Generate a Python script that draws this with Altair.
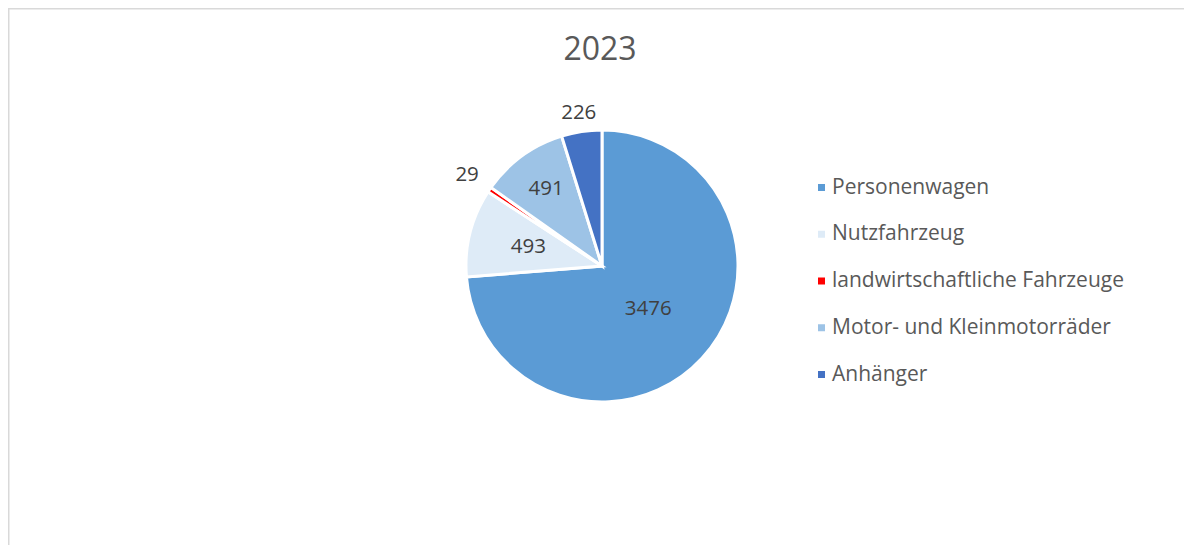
import altair as alt
import pandas as pd

title_text = "2023"
categories = ["Personenwagen", "Nutzfahrzeug", "landwirtschaftliche Fahrzeuge",
              "Motor- und Kleinmotorräder", "Anhänger"]
values = [3476, 493, 29, 491, 226]
colors = ["#5B9BD5", "#DEEBF7", "#FF0000", "#9DC3E6", "#4472C4"]

df = pd.DataFrame({"cat": categories, "val": values, "idx": list(range(len(categories)))})

W, H = 1176, 537
CX, CY, R = 594, 258, 136

pie = alt.Chart(df).mark_arc(outerRadius=R, stroke="white", strokeWidth=3).encode(
    theta=alt.Theta("val:Q", stack=True),
    order=alt.Order("idx:Q"),
    x=alt.value(CX), y=alt.value(CY),
    color=alt.Color(
        "cat:N",
        scale=alt.Scale(domain=categories, range=colors),
        sort=categories,
        legend=alt.Legend(
            title=None, orient="none", legendX=803, legendY=169,
            symbolType="square", symbolSize=49, symbolStrokeWidth=0,
            labelFont="Open Sans", labelFontSize=21, labelColor="#595959",
            rowPadding=24.75, labelOffset=0, labelLimit=500,
        ),
    ),
)

labels = alt.Chart(df).transform_window(
    cum="sum(val)", sort=[alt.SortField("idx")]
).transform_joinaggregate(
    total="sum(val)"
).transform_calculate(
    mid="(datum.cum - datum.val / 2) / datum.total * 2 * PI",
    lr="datum.idx == 0 ? 63 : datum.idx == 1 ? 76 : datum.idx == 2 ? 163 : datum.idx == 3 ? 95 : 155",
).mark_text(font="Open Sans", fontSize=20.5, color="#404040").encode(
    x=alt.value(CX), y=alt.value(CY),
    theta=alt.Theta("mid:Q", scale=None, stack=None),
    radius=alt.Radius("lr:Q", scale=None),
    text=alt.Text("val:Q"),
)

title = alt.Chart(pd.DataFrame({"t": [title_text]})).mark_text(
    font="Open Sans", fontSize=32, color="#595959"
).encode(x=alt.value(592), y=alt.value(42), text="t:N")

border_top = alt.Chart(pd.DataFrame({"a": [0]})).mark_rule(
    color="#d9d9d9", strokeWidth=2
).encode(x=alt.value(0), x2=alt.value(W), y=alt.value(0.5))
border_left = alt.Chart(pd.DataFrame({"a": [0]})).mark_rule(
    color="#d9d9d9", strokeWidth=2
).encode(x=alt.value(0.5), y=alt.value(0), y2=alt.value(H))

chart = alt.layer(border_top, border_left, pie, labels, title).properties(
    width=W, height=H, padding=0, autosize=alt.AutoSizeParams(type="none")
).configure_view(stroke=None)

chart.save("out.html", embed_options={"renderer": "svg", "actions": False})
